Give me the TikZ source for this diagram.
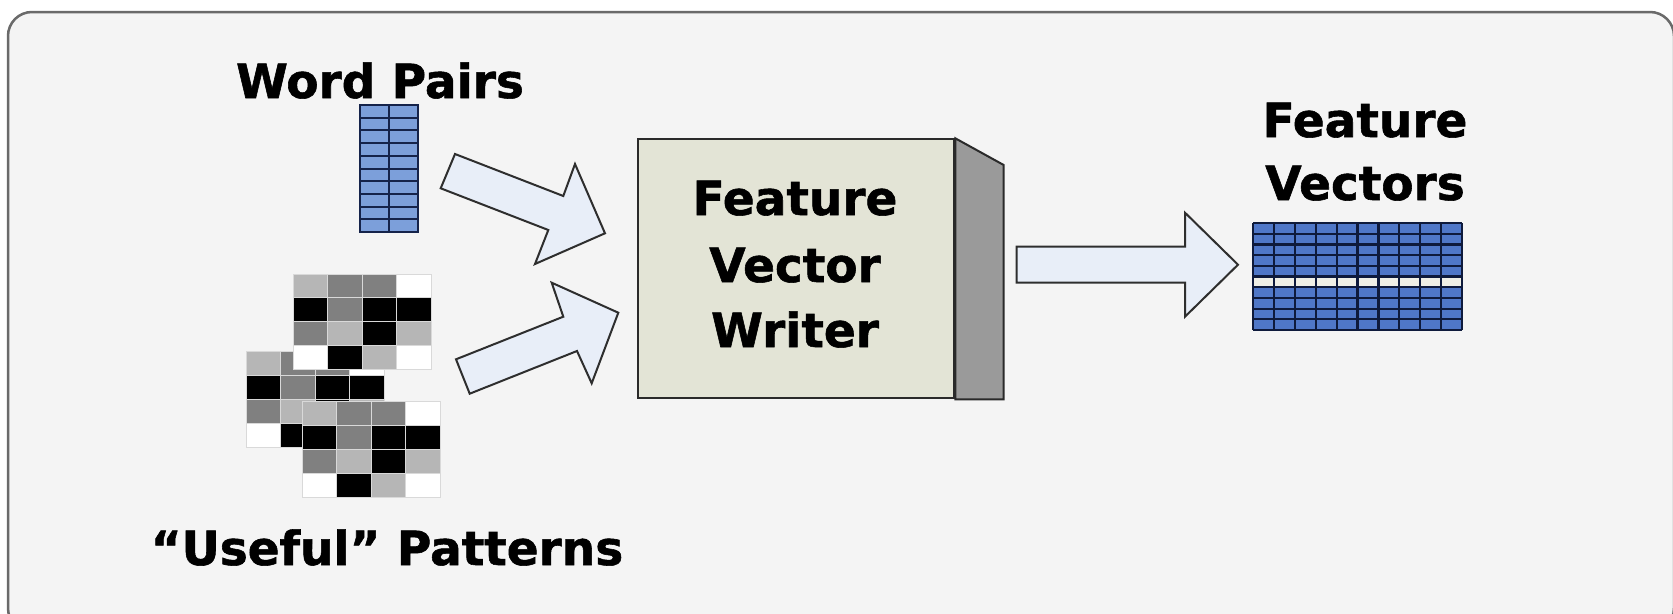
\documentclass[tikz,border=0pt]{standalone}
\usepackage{fontspec}
\setmainfont{DejaVu Sans}[BoldFeatures={FakeBold=1.2}]
\definecolor{bgfill}{HTML}{F4F4F4}
\definecolor{framecol}{HTML}{6A6A6A}
\definecolor{arrowfill}{HTML}{E8EEF8}
\definecolor{arrowline}{HTML}{2E2E2E}
\definecolor{boxfront}{HTML}{E3E4D6}
\definecolor{boxside}{HTML}{9A9A9A}
\definecolor{boxline}{HTML}{2A2A2A}
\definecolor{wpfill}{HTML}{7C9FDA}
\definecolor{wpline}{HTML}{15234A}
\definecolor{fvfill}{HTML}{4F77C8}
\definecolor{fvline}{HTML}{0E1A3C}
\definecolor{fvwhite}{HTML}{EFEFE6}
\definecolor{pL}{HTML}{B6B6B6}
\definecolor{pM}{HTML}{808080}
\definecolor{pB}{HTML}{000000}
\definecolor{pW}{HTML}{FFFFFF}
\newcommand\patgrid[2]{%
  \begin{scope}[shift={(#1,#2)}]
    \foreach \c [count=\i from 0] in {pL,pM,pM,pW,pB,pM,pB,pB,pM,pL,pB,pL,pW,pB,pL,pW}{
      \pgfmathtruncatemacro\cc{mod(\i,4)}
      \pgfmathtruncatemacro\rr{int(\i/4)}
      \filldraw[fill=\c, draw=black!15, line width=0.8pt]
        (\cc*34.5,\rr*23.8) rectangle ++(34.5,23.8);
    }
  \end{scope}}
\begin{document}
\begin{tikzpicture}[x=1pt,y=-1pt,
  lbl/.style={font=\fontsize{47}{66}\selectfont\bfseries, text=black, inner sep=0pt, anchor=base},
  blockarrow/.style={fill=arrowfill, draw=arrowline, line width=2pt, line join=miter},
  boxfront/.style={fill=boxfront, draw=boxline, line width=2pt, minimum width=316pt, minimum height=259pt, inner sep=0pt}]
\useasboundingbox (0,0) rectangle (1673,613);
\fill[white] (0,0) rectangle (1673,613);
\draw[fill=bgfill, draw=framecol, line width=2.5pt, rounded corners=24pt] (8,12) rectangle (1674,632);

% labels
\node[lbl] (wp) at (380,98) {Word Pairs};
\node[lbl] (up) at (387,565) {“Useful” Patterns};
\node[lbl] (fv1) at (1365,137) {Feature};
\node[lbl] (fv2) at (1365,200) {Vectors};

% word pairs icon
\node[fill=wpfill, draw=wpline, line width=2pt, minimum width=58pt, minimum height=127pt, inner sep=0pt] (wpicon) at (389,168.5) {};
\foreach \k in {1,...,9}{
  \draw[wpline, line width=2pt] (360,105+\k*12.7) -- (418,105+\k*12.7);
}
\draw[wpline, line width=2.8pt] (wpicon.north) -- (wpicon.south);

% patterns
\patgrid{246}{351.7}
\patgrid{293}{274}
\patgrid{302}{401.7}

% feature vector writer box
\node[boxfront] (fvw) at (796.3,268.8) {};
\filldraw[fill=boxside, draw=boxline, line width=2pt, line join=miter]
  (fvw.north east) -- ++(48.4,26.7) |- (fvw.south east) -- cycle;
\node[lbl] (fvwa) at (795,215) {Feature};
\node[lbl] (fvwb) at (795,282) {Vector};
\node[lbl] (fvwc) at (795,347) {Writer};

% feature vectors grid
\node[fill=fvfill, inner sep=0pt, minimum width=209pt, minimum height=107pt] (fvgrid) at (1357.5,276.5) {};
\foreach \k in {0,...,9}{
  \fill[fvwhite] (1253+\k*20.9+1,223+5*10.7+1) rectangle ++(18.9,8.7);
}
\foreach \k in {0,...,10}{
  \draw[fvline, line width=2.2pt] (1253,223+\k*10.7) -- (1462,223+\k*10.7);
  \draw[fvline, line width=2.2pt] (1253+\k*20.9,223) -- (1253+\k*20.9,330);
}

% block arrows
\filldraw[blockarrow] (455,154) -- (563.3,196) -- (575,164) -- (605,233.3)
  -- (535,264) -- (548.3,230) -- (440.7,188.3) -- cycle;
\filldraw[blockarrow] (456,359.3) -- (563.3,316.7) -- (551.7,282.7) -- (618.3,312.7)
  -- (591.7,383.3) -- (577,351) -- (469.7,393.7) -- cycle;
\filldraw[blockarrow] (1016.7,246.7) -- (1185,246.7) -- (1185,212.7) -- (1238,264.7)
  -- (1185,316.7) -- (1185,282.7) -- (1016.7,282.7) -- cycle;
\end{tikzpicture}
\end{document}
